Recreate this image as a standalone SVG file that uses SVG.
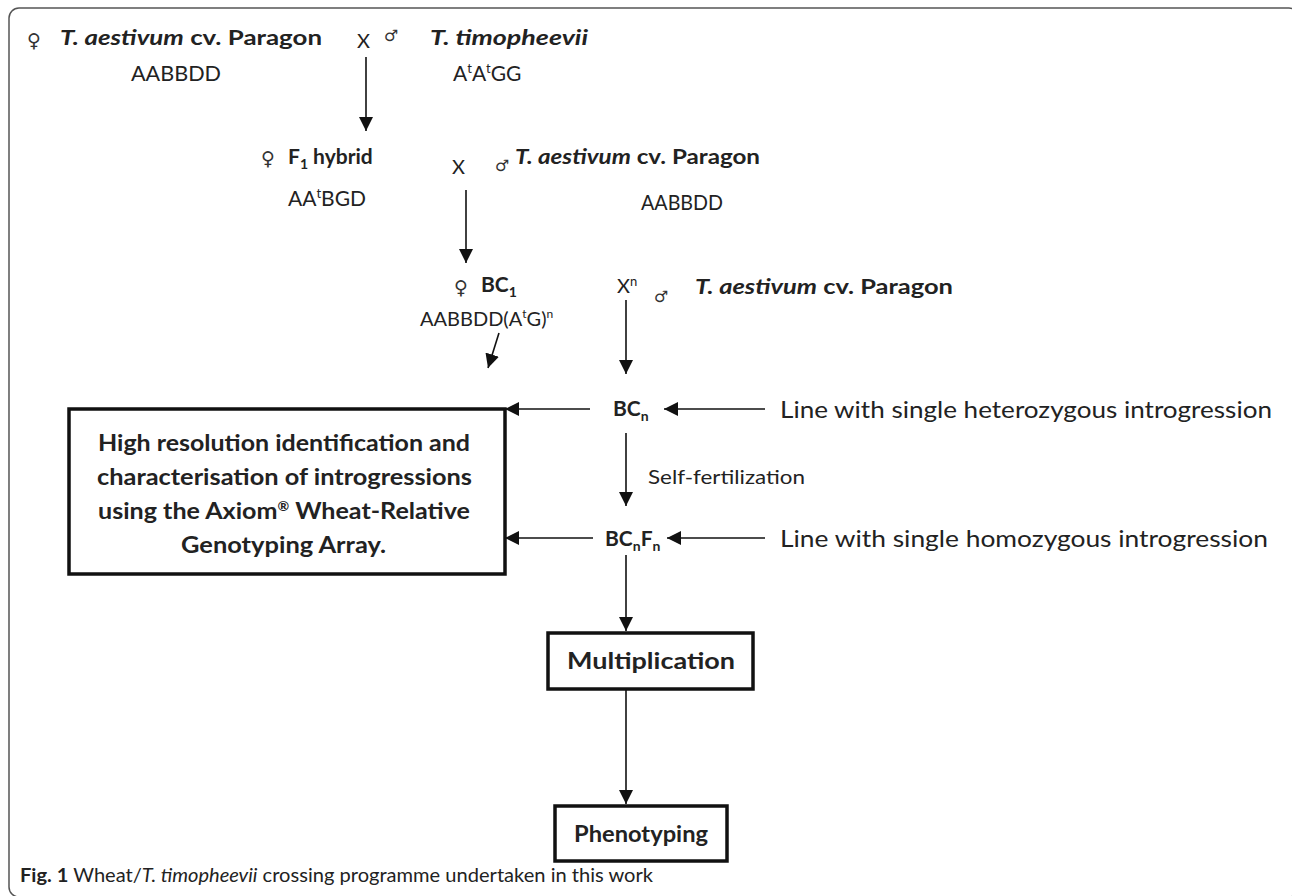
<svg xmlns="http://www.w3.org/2000/svg" width="1292" height="896" viewBox="0 0 1292 896">
<defs>
<marker id="ah" markerUnits="userSpaceOnUse" markerWidth="14" markerHeight="14" viewBox="0 0 14 14" refX="14" refY="7" orient="auto">
<path d="M0,0 L14,7 L0,14 Z" fill="#111"/>
</marker>
<style>
.t{font-family:Lato,"Open Sans","Liberation Sans",sans-serif;fill:#222}
.b{font-weight:bold}
.i{font-style:italic}
.s{font-family:"DejaVu Sans",sans-serif;fill:#333}
.c{stroke:#111;stroke-width:1.6;fill:none;marker-end:url(#ah)}
.box{fill:#fff;stroke:#111;stroke-width:3.5}
</style>
</defs>
<rect x="9" y="8" width="1290" height="889" rx="10" fill="#fff" stroke="#555" stroke-width="1.5"/>

<g id="row1">
<text class="s" x="27" y="47" font-size="19">♀</text>
<text class="t b" x="60" y="45" font-size="21" textLength="262" lengthAdjust="spacingAndGlyphs"><tspan class="i">T. aestivum</tspan> cv. Paragon</text>
<text class="t" x="357" y="48" font-size="20">X</text>
<text class="s" x="384" y="41" font-size="16">♂</text>
<text class="t b i" x="430" y="45" font-size="21" textLength="158" lengthAdjust="spacingAndGlyphs">T. timopheevii</text>
<text class="t" x="131" y="81" font-size="21" textLength="90" lengthAdjust="spacingAndGlyphs">AABBDD</text>
<text class="t" x="453" y="81" font-size="21">A<tspan font-size="13" dy="-8">t</tspan><tspan dy="8">A</tspan><tspan font-size="13" dy="-8">t</tspan><tspan dy="8">GG</tspan></text>
</g>

<g id="row2">
<text class="s" x="261" y="165" font-size="19">♀</text>
<text class="t b" x="288" y="164" font-size="21">F<tspan font-size="14" dy="5">1</tspan><tspan dy="-5"> hybrid</tspan></text>
<text class="t" x="452" y="174" font-size="20">X</text>
<text class="s" x="495" y="171" font-size="16">♂</text>
<text class="t b" x="515" y="164" font-size="21" textLength="245" lengthAdjust="spacingAndGlyphs"><tspan class="i">T. aestivum</tspan> cv. Paragon</text>
<text class="t" x="288" y="206" font-size="21">AA<tspan font-size="13" dy="-8">t</tspan><tspan dy="8">BGD</tspan></text>
<text class="t" x="641" y="210" font-size="21" textLength="82" lengthAdjust="spacingAndGlyphs">AABBDD</text>
</g>

<g id="row3">
<text class="s" x="454" y="294" font-size="19">♀</text>
<text class="t b" x="481" y="292" font-size="21">BC<tspan font-size="14" dy="5">1</tspan></text>
<text class="t" x="617" y="293" font-size="20">X<tspan font-size="13" dy="-7">n</tspan></text>
<text class="s" x="654" y="302" font-size="16">♂</text>
<text class="t b" x="695" y="294" font-size="21" textLength="258" lengthAdjust="spacingAndGlyphs"><tspan class="i">T. aestivum</tspan> cv. Paragon</text>
<text class="t" x="420" y="326" font-size="20">AABBDD(A<tspan font-size="12" dy="-8">t</tspan><tspan dy="8">G)</tspan><tspan font-size="12" dy="-8">n</tspan></text>
</g>

<g id="bcn">
<text class="t b" x="613" y="416" font-size="21">BC<tspan font-size="14" dy="5">n</tspan></text>
</g>
<g id="hetero">
<text class="t" x="780" y="418" font-size="24" textLength="492" lengthAdjust="spacingAndGlyphs">Line with single heterozygous introgression</text>
</g>
<g id="analysis">
<rect class="box" x="69" y="409" width="436" height="165"/>
<text class="t b" x="98" y="451" font-size="23" textLength="372" lengthAdjust="spacingAndGlyphs">High resolution identification and</text>
<text class="t b" x="97" y="485" font-size="23" textLength="375" lengthAdjust="spacingAndGlyphs">characterisation of introgressions</text>
<text class="t b" x="98" y="519" font-size="23" textLength="372" lengthAdjust="spacingAndGlyphs">using the Axiom<tspan font-size="13" dy="-8">®</tspan><tspan dy="8"> Wheat-Relative</tspan></text>
<text class="t b" x="181" y="553" font-size="23" textLength="205" lengthAdjust="spacingAndGlyphs">Genotyping Array.</text>
</g>
<g id="self">
<text class="t" x="648" y="484" font-size="19" textLength="157" lengthAdjust="spacingAndGlyphs">Self-fertilization</text>
</g>
<g id="bcnfn">
<text class="t b" x="605" y="546" font-size="21">BC<tspan font-size="14" dy="5">n</tspan><tspan dy="-5">F</tspan><tspan font-size="14" dy="5">n</tspan></text>
</g>
<g id="homo">
<text class="t" x="780" y="547" font-size="24" textLength="488" lengthAdjust="spacingAndGlyphs">Line with single homozygous introgression</text>
</g>
<g id="multiplication">
<rect class="box" x="548" y="633" width="205" height="56"/>
<text class="t b" x="567" y="669" font-size="23" textLength="168" lengthAdjust="spacingAndGlyphs">Multiplication</text>
</g>
<g id="phenotyping">
<rect class="box" x="555" y="806" width="172" height="55"/>
<text class="t b" x="574" y="842" font-size="23" textLength="134" lengthAdjust="spacingAndGlyphs">Phenotyping</text>
</g>

<g id="connectors">
<line class="c" x1="366" y1="57" x2="366" y2="131"/>
<line class="c" x1="466" y1="190" x2="466" y2="263"/>
<line class="c" x1="499" y1="333" x2="488" y2="368"/>
<line class="c" x1="626" y1="300" x2="626" y2="374"/>
<line class="c" x1="590" y1="409" x2="505" y2="409"/>
<line class="c" x1="765" y1="409" x2="664" y2="409"/>
<line class="c" x1="626" y1="433" x2="626" y2="506"/>
<line class="c" x1="593" y1="538" x2="505" y2="538"/>
<line class="c" x1="765" y1="538" x2="667" y2="538"/>
<line class="c" x1="626" y1="555" x2="626" y2="631"/>
<line class="c" x1="626" y1="690" x2="626" y2="804"/>
</g>

<g id="caption">
<text class="t" x="20" y="882" font-size="19" textLength="633" lengthAdjust="spacingAndGlyphs"><tspan class="b">Fig. 1</tspan> Wheat/<tspan class="i">T. timopheevii</tspan> crossing programme undertaken in this work</text>
</g>
</svg>
